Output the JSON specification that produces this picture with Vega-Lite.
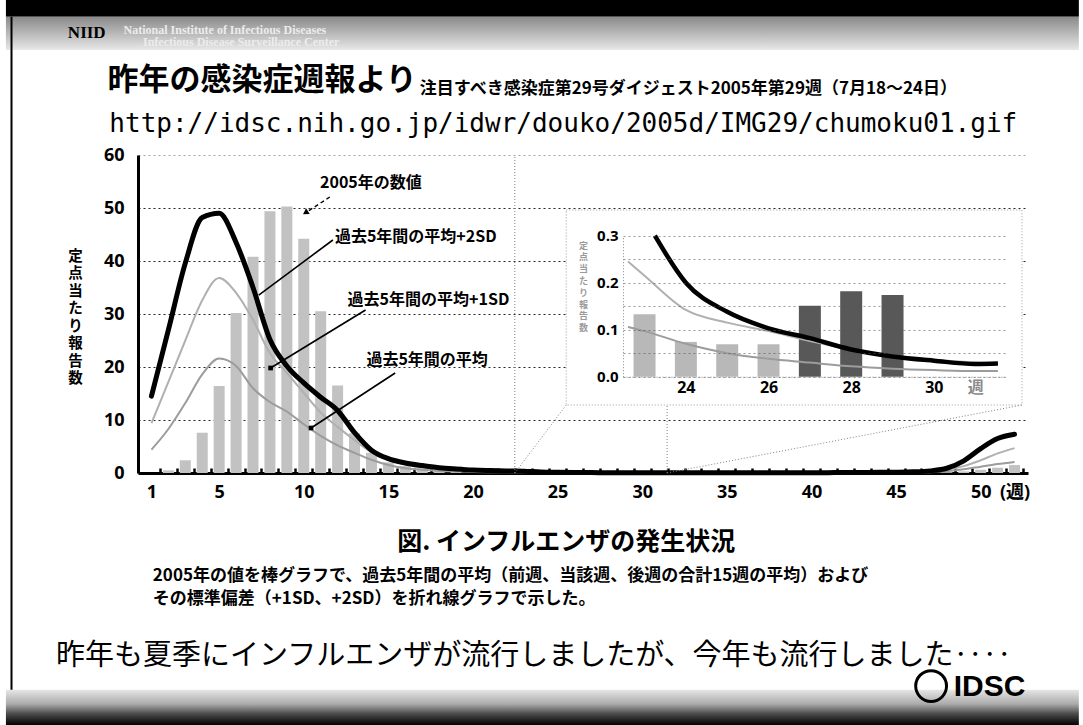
{
  "$schema": "https://vega.github.io/schema/vega-lite/v6.json",
  "width": 890,
  "height": 318,
  "autosize": {"type": "none"},
  "padding": {"left": 138, "top": 155, "right": 55, "bottom": 252},
  "background": "white",
  "config": {"view": {"stroke": null}, "font": "Noto Sans CJK JP"},
  "datasets": {
    "main": [
      {"w": 1, "bar": 0, "mean": 4.4, "sd1": 9.4, "sd2": 14.5},
      {"w": 2, "bar": 0.5, "mean": 8.3, "sd1": 17.2, "sd2": 27.0},
      {"w": 3, "bar": 2.4, "mean": 13.2, "sd1": 25.0, "sd2": 39.6},
      {"w": 4, "bar": 7.6, "mean": 18.6, "sd1": 32.6, "sd2": 48.2},
      {"w": 5, "bar": 16.4, "mean": 21.6, "sd1": 36.8, "sd2": 49.0},
      {"w": 6, "bar": 30.2, "mean": 20.2, "sd1": 34.0, "sd2": 43.5},
      {"w": 7, "bar": 40.8, "mean": 16.0, "sd1": 28.9, "sd2": 35.0},
      {"w": 8, "bar": 49.4, "mean": 13.4, "sd1": 22.6, "sd2": 25.2},
      {"w": 9, "bar": 50.3, "mean": 11.6, "sd1": 18.9, "sd2": 20.2},
      {"w": 10, "bar": 44.2, "mean": 9.2, "sd1": 15.1, "sd2": 17.0},
      {"w": 11, "bar": 30.5, "mean": 7.0, "sd1": 11.4, "sd2": 14.3},
      {"w": 12, "bar": 16.5, "mean": 5.2, "sd1": 8.7, "sd2": 11.8},
      {"w": 13, "bar": 7.5, "mean": 3.8, "sd1": 6.2, "sd2": 7.6},
      {"w": 14, "bar": 3.8, "mean": 2.5, "sd1": 3.9, "sd2": 4.3},
      {"w": 15, "bar": 2.0, "mean": 1.5, "sd1": 2.5, "sd2": 2.7},
      {"w": 16, "bar": 1.3, "mean": 0.9, "sd1": 1.6, "sd2": 1.9},
      {"w": 17, "bar": 0.9, "mean": 0.6, "sd1": 1.1, "sd2": 1.4},
      {"w": 18, "bar": 0.6, "mean": 0.4, "sd1": 0.8, "sd2": 1.0},
      {"w": 19, "bar": 0.4, "mean": 0.3, "sd1": 0.55, "sd2": 0.75},
      {"w": 20, "bar": 0.3, "mean": 0.2, "sd1": 0.4, "sd2": 0.55},
      {"w": 21, "bar": 0.2, "mean": 0.15, "sd1": 0.3, "sd2": 0.45},
      {"w": 22, "bar": 0.15, "mean": 0.12, "sd1": 0.25, "sd2": 0.38},
      {"w": 23, "bar": 0.13, "mean": 0.097, "sd1": 0.215, "sd2": 0.33},
      {"w": 24, "bar": 0.074, "mean": 0.07, "sd1": 0.142, "sd2": 0.2},
      {"w": 25, "bar": 0.069, "mean": 0.05, "sd1": 0.115, "sd2": 0.138},
      {"w": 26, "bar": 0.069, "mean": 0.038, "sd1": 0.097, "sd2": 0.103},
      {"w": 27, "bar": 0.151, "mean": 0.03, "sd1": 0.076, "sd2": 0.082},
      {"w": 28, "bar": 0.182, "mean": 0.022, "sd1": 0.058, "sd2": 0.058},
      {"w": 29, "bar": 0.174, "mean": 0.017, "sd1": 0.045, "sd2": 0.043},
      {"w": 30, "bar": 0, "mean": 0.014, "sd1": 0.036, "sd2": 0.034},
      {"w": 31, "bar": 0, "mean": 0.012, "sd1": 0.03, "sd2": 0.027},
      {"w": 32, "bar": 0.01, "mean": 0.01, "sd1": 0.03, "sd2": 0.03},
      {"w": 33, "bar": 0.01, "mean": 0.01, "sd1": 0.03, "sd2": 0.03},
      {"w": 34, "bar": 0.01, "mean": 0.01, "sd1": 0.03, "sd2": 0.035},
      {"w": 35, "bar": 0.02, "mean": 0.01, "sd1": 0.03, "sd2": 0.04},
      {"w": 36, "bar": 0.02, "mean": 0.01, "sd1": 0.03, "sd2": 0.04},
      {"w": 37, "bar": 0.02, "mean": 0.01, "sd1": 0.03, "sd2": 0.04},
      {"w": 38, "bar": 0.02, "mean": 0.015, "sd1": 0.035, "sd2": 0.05},
      {"w": 39, "bar": 0.02, "mean": 0.015, "sd1": 0.04, "sd2": 0.05},
      {"w": 40, "bar": 0.02, "mean": 0.02, "sd1": 0.04, "sd2": 0.06},
      {"w": 41, "bar": 0.02, "mean": 0.02, "sd1": 0.05, "sd2": 0.07},
      {"w": 42, "bar": 0.03, "mean": 0.025, "sd1": 0.06, "sd2": 0.08},
      {"w": 43, "bar": 0.03, "mean": 0.03, "sd1": 0.07, "sd2": 0.1},
      {"w": 44, "bar": 0.03, "mean": 0.04, "sd1": 0.09, "sd2": 0.12},
      {"w": 45, "bar": 0.04, "mean": 0.05, "sd1": 0.11, "sd2": 0.15},
      {"w": 46, "bar": 0.05, "mean": 0.08, "sd1": 0.16, "sd2": 0.22},
      {"w": 47, "bar": 0.08, "mean": 0.16, "sd1": 0.32, "sd2": 0.4},
      {"w": 48, "bar": 0.15, "mean": 0.35, "sd1": 0.65, "sd2": 0.9},
      {"w": 49, "bar": 0.3, "mean": 0.7, "sd1": 1.3, "sd2": 2.3},
      {"w": 50, "bar": 0.6, "mean": 1.2, "sd1": 2.4, "sd2": 4.6},
      {"w": 51, "bar": 1.0, "mean": 1.7, "sd1": 3.7, "sd2": 6.5},
      {"w": 52, "bar": 1.5, "mean": 2.1, "sd1": 4.7, "sd2": 7.3}
    ],
    "insetBars": [
      {"w": 23, "v": 0.133, "over": "no"},
      {"w": 24, "v": 0.074, "over": "no"},
      {"w": 25, "v": 0.069, "over": "no"},
      {"w": 26, "v": 0.069, "over": "no"},
      {"w": 27, "v": 0.151, "over": "yes"},
      {"w": 28, "v": 0.182, "over": "yes"},
      {"w": 29, "v": 0.174, "over": "yes"}
    ],
    "insetLines": [
      {"s": "sd2", "w": 23.25, "v": 0.3},
      {"s": "sd2", "w": 24, "v": 0.2},
      {"s": "sd2", "w": 25, "v": 0.138},
      {"s": "sd2", "w": 26, "v": 0.103},
      {"s": "sd2", "w": 27, "v": 0.082},
      {"s": "sd2", "w": 28, "v": 0.058},
      {"s": "sd2", "w": 29, "v": 0.043},
      {"s": "sd2", "w": 30, "v": 0.034},
      {"s": "sd2", "w": 31, "v": 0.027},
      {"s": "sd2", "w": 31.55, "v": 0.028},
      {"s": "sd1", "w": 22.6, "v": 0.245},
      {"s": "sd1", "w": 23, "v": 0.215},
      {"s": "sd1", "w": 24, "v": 0.142},
      {"s": "sd1", "w": 25, "v": 0.115},
      {"s": "sd1", "w": 26, "v": 0.097},
      {"s": "sd1", "w": 27, "v": 0.076},
      {"s": "sd1", "w": 28, "v": 0.058},
      {"s": "sd1", "w": 29, "v": 0.045},
      {"s": "sd1", "w": 30, "v": 0.036},
      {"s": "sd1", "w": 31, "v": 0.03},
      {"s": "sd1", "w": 31.55, "v": 0.028},
      {"s": "mean", "w": 22.6, "v": 0.106},
      {"s": "mean", "w": 23, "v": 0.097},
      {"s": "mean", "w": 24, "v": 0.07},
      {"s": "mean", "w": 25, "v": 0.05},
      {"s": "mean", "w": 26, "v": 0.038},
      {"s": "mean", "w": 27, "v": 0.03},
      {"s": "mean", "w": 28, "v": 0.022},
      {"s": "mean", "w": 29, "v": 0.017},
      {"s": "mean", "w": 30, "v": 0.014},
      {"s": "mean", "w": 31, "v": 0.012},
      {"s": "mean", "w": 31.55, "v": 0.012}
    ]
  },
  "layer": [
    {
      "resolve": {"axis": {"x": "independent"}},
      "layer": [
        {
          "data": {"values": [{"x1": -7.6, "x2": 55.8, "y1": 86.1, "y2": 89.3}]},
          "mark": {"type": "rect", "fill": "#000000"},
          "encoding": {
            "x": {"field": "x1", "type": "quantitative", "scale": {"domain": [0.5, 52.5], "nice": false, "zero": false}, "axis": null},
            "x2": {"field": "x2"},
            "y": {"field": "y1", "type": "quantitative", "scale": {"domain": [0, 60], "nice": false, "zero": false}},
            "y2": {"field": "y2"}
          }
        },
        {
          "data": {"values": [{"x1": -7.6, "x2": 55.8, "y1": 79.8, "y2": 86.1}]},
          "mark": {"type": "rect", "fill": {"gradient": "linear", "x1": 0, "y1": 0, "x2": 0, "y2": 1, "stops": [{"offset": 0, "color": "#8a8a8a"}, {"offset": 0.5, "color": "#b8b8b8"}, {"offset": 1, "color": "#e8e8e8"}]}},
          "encoding": {
            "x": {"field": "x1", "type": "quantitative", "scale": {"domain": [0.5, 52.5], "nice": false, "zero": false}, "axis": null},
            "x2": {"field": "x2"},
            "y": {"field": "y1", "type": "quantitative", "scale": {"domain": [0, 60], "nice": false, "zero": false}},
            "y2": {"field": "y2"}
          }
        },
        {
          "data": {"values": [{"x1": -7.6, "x2": 55.8, "y1": -47.6, "y2": -40.9}]},
          "mark": {"type": "rect", "fill": {"gradient": "linear", "x1": 0, "y1": 0, "x2": 0, "y2": 1, "stops": [{"offset": 0, "color": "#e6e6e6"}, {"offset": 0.4, "color": "#ababab"}, {"offset": 0.68, "color": "#4a4a4a"}, {"offset": 1, "color": "#000000"}]}},
          "encoding": {
            "x": {"field": "x1", "type": "quantitative", "scale": {"domain": [0.5, 52.5], "nice": false, "zero": false}, "axis": null},
            "x2": {"field": "x2"},
            "y": {"field": "y1", "type": "quantitative", "scale": {"domain": [0, 60], "nice": false, "zero": false}},
            "y2": {"field": "y2"}
          }
        },
        {
          "data": {"values": [{"x1": -7.27, "y1": 86.1, "y2": -40.9}]},
          "mark": {"type": "rule", "color": "#000000", "strokeWidth": 2},
          "encoding": {
            "x": {"field": "x1", "type": "quantitative", "scale": {"domain": [0.5, 52.5], "nice": false, "zero": false}, "axis": null},
            "y": {"field": "y1", "type": "quantitative", "scale": {"domain": [0, 60], "nice": false, "zero": false}},
            "y2": {"field": "y2"}
          }
        },
        {
          "data": {"values": [{"x1": 25.51, "x2": 52.44, "y1": 12.83, "y2": 49.62}]},
          "mark": {"type": "rect", "fill": "#ffffff", "stroke": "#9a9a9a", "strokeWidth": 1, "strokeDash": [1, 2]},
          "encoding": {
            "x": {"field": "x1", "type": "quantitative", "scale": {"domain": [0.5, 52.5], "nice": false, "zero": false}, "axis": null},
            "x2": {"field": "x2"},
            "y": {"field": "y1", "type": "quantitative", "scale": {"domain": [0, 60], "nice": false, "zero": false}},
            "y2": {"field": "y2"}
          }
        },
        {
          "data": {"name": "main"},
          "mark": {"type": "bar", "size": 11, "color": "#c2c2c2"},
          "encoding": {
            "x": {
              "field": "w", "type": "quantitative",
              "scale": {"domain": [0.5, 52.5], "nice": false, "zero": false},
              "axis": {
                "orient": "bottom",
                "values": [1, 5, 10, 15, 20, 25, 30, 35, 40, 45, 50, 52],
                "labelExpr": "datum.value == 52 ? '(週)' : datum.label",
                "ticks": false,
                "domainWidth": 3, "domainColor": "#000000",
                "labelFont": "Open Sans, Noto Sans CJK JP", "labelFontSize": 18, "labelFontWeight": "bold", "labelColor": "#000000",
                "labelPadding": 10, "labelOverlap": false, "labelFlush": false, "labelBound": false,
                "grid": false, "title": null
              }
            },
            "y": {
              "field": "bar", "type": "quantitative",
              "scale": {"domain": [0, 60], "nice": false, "zero": false},
              "axis": {
                "values": [0, 10, 20, 30, 40, 50, 60],
                "ticks": false, "domainWidth": 3, "domainColor": "#000000",
                "labelFont": "Open Sans", "labelFontSize": 18, "labelFontWeight": "bold", "labelColor": "#000000", "labelPadding": 14,
                "grid": true, "gridColor": "#000000", "gridDash": [2, 3], "gridWidth": 1,
                "gridOpacity": {"condition": {"test": "datum.value == 60", "value": 0.35}, "value": 0.85},
                "title": ["定", "点", "当", "た", "り", "報", "告", "数"],
                "titleAngle": 0, "titleX": -63, "titleY": 94, "titleAlign": "center", "titleBaseline": "top",
                "titleFont": "Noto Sans CJK JP", "titleFontSize": 14.5, "titleFontWeight": "bold", "titleLineHeight": 17.5, "titleColor": "#000000"
              }
            }
          }
        },
        {
          "data": {"name": "main"},
          "mark": {"type": "line", "color": "#9c9c9c", "strokeWidth": 2, "interpolate": "monotone"},
          "encoding": {
            "x": {
              "field": "w", "type": "quantitative", "scale": {"domain": [0.5, 52.5], "nice": false, "zero": false},
              "axis": {
                "orient": "bottom",
                "values": [1.5, 2.5, 3.5, 4.5, 5.5, 6.5, 7.5, 8.5, 9.5, 10.5, 11.5, 12.5, 13.5, 14.5, 15.5, 16.5, 17.5, 18.5, 19.5, 20.5, 21.5, 22.5, 23.5, 24.5, 25.5, 26.5, 27.5, 28.5, 29.5, 30.5, 31.5, 32.5, 33.5, 34.5, 35.5, 36.5, 37.5, 38.5, 39.5, 40.5, 41.5, 42.5, 43.5, 44.5, 45.5, 46.5, 47.5, 48.5, 49.5, 50.5, 51.5, 52.5],
                "labels": false, "domain": false, "grid": false, "title": null,
                "tickSize": -5, "tickWidth": 2.5, "tickColor": "#000000"
              }
            },
            "y": {"field": "mean", "type": "quantitative", "scale": {"domain": [0, 60], "nice": false, "zero": false}}
          }
        },
        {
          "data": {"name": "main"},
          "mark": {"type": "line", "color": "#b0b0b0", "strokeWidth": 2, "interpolate": "monotone"},
          "encoding": {
            "x": {"field": "w", "type": "quantitative", "scale": {"domain": [0.5, 52.5], "nice": false, "zero": false}, "axis": null},
            "y": {"field": "sd1", "type": "quantitative", "scale": {"domain": [0, 60], "nice": false, "zero": false}}
          }
        },
        {
          "data": {"name": "main"},
          "mark": {"type": "line", "color": "#000000", "strokeWidth": 5, "interpolate": "monotone", "strokeCap": "round"},
          "encoding": {
            "x": {"field": "w", "type": "quantitative", "scale": {"domain": [0.5, 52.5], "nice": false, "zero": false}, "axis": null},
            "y": {"field": "sd2", "type": "quantitative", "scale": {"domain": [0, 60], "nice": false, "zero": false}}
          }
        },
        {
          "data": {"values": [
            {"x1": 22.47, "y1": 0, "x2": 22.47, "y2": 60},
            {"x1": 31.47, "y1": 0, "x2": 31.47, "y2": 12.83},
            {"x1": 22.47, "y1": 0, "x2": 25.51, "y2": 12.83},
            {"x1": 31.47, "y1": 0, "x2": 52.44, "y2": 12.83}
          ]},
          "mark": {"type": "rule", "color": "#808080", "strokeWidth": 1, "strokeDash": [1, 2]},
          "encoding": {
            "x": {"field": "x1", "type": "quantitative", "scale": {"domain": [0.5, 52.5], "nice": false, "zero": false}, "axis": null},
            "x2": {"field": "x2"},
            "y": {"field": "y1", "type": "quantitative", "scale": {"domain": [0, 60], "nice": false, "zero": false}},
            "y2": {"field": "y2"}
          }
        },
        {
          "data": {"values": [
            {"x1": 11.72, "y1": 43.96, "x2": 7.34, "y2": 33.58},
            {"x1": 13.65, "y1": 30.75, "x2": 8.04, "y2": 19.81},
            {"x1": 15.4, "y1": 18.87, "x2": 10.43, "y2": 8.49}
          ]},
          "mark": {"type": "rule", "color": "#000000", "strokeWidth": 1.6},
          "encoding": {
            "x": {"field": "x1", "type": "quantitative", "scale": {"domain": [0.5, 52.5], "nice": false, "zero": false}, "axis": null},
            "x2": {"field": "x2"},
            "y": {"field": "y1", "type": "quantitative", "scale": {"domain": [0, 60], "nice": false, "zero": false}},
            "y2": {"field": "y2"}
          }
        },
        {
          "data": {"values": [{"x1": 11.54, "y1": 52.08, "x2": 10.3, "y2": 49.5}]},
          "mark": {"type": "rule", "color": "#000000", "strokeWidth": 1.4, "strokeDash": [4, 3]},
          "encoding": {
            "x": {"field": "x1", "type": "quantitative", "scale": {"domain": [0.5, 52.5], "nice": false, "zero": false}, "axis": null},
            "x2": {"field": "x2"},
            "y": {"field": "y1", "type": "quantitative", "scale": {"domain": [0, 60], "nice": false, "zero": false}},
            "y2": {"field": "y2"}
          }
        },
        {
          "data": {"values": [{"x": 10.1, "y": 49.1}]},
          "mark": {"type": "point", "shape": "triangle-up", "filled": true, "color": "#000000", "size": 45, "angle": 237, "opacity": 1},
          "encoding": {
            "x": {"field": "x", "type": "quantitative", "scale": {"domain": [0.5, 52.5], "nice": false, "zero": false}, "axis": null},
            "y": {"field": "y", "type": "quantitative", "scale": {"domain": [0, 60], "nice": false, "zero": false}}
          }
        },
        {
          "data": {"values": [{"x": 8.04, "y": 19.81}, {"x": 10.43, "y": 8.49}]},
          "mark": {"type": "point", "shape": "square", "filled": true, "color": "#000000", "size": 22, "opacity": 1},
          "encoding": {
            "x": {"field": "x", "type": "quantitative", "scale": {"domain": [0.5, 52.5], "nice": false, "zero": false}, "axis": null},
            "y": {"field": "y", "type": "quantitative", "scale": {"domain": [0, 60], "nice": false, "zero": false}}
          }
        },
        {
          "data": {"values": [
            {"x": 10.96, "y": 54.72, "t": "2005年の数値"},
            {"x": 11.84, "y": 44.53, "t": "過去5年間の平均+2SD"},
            {"x": 12.59, "y": 32.64, "t": "過去5年間の平均+1SD"},
            {"x": 13.7, "y": 21.32, "t": "過去5年間の平均"}
          ]},
          "mark": {"type": "text", "align": "left", "baseline": "middle", "font": "Noto Sans CJK JP", "fontSize": 16, "fontWeight": "bold", "color": "#000000"},
          "encoding": {
            "x": {"field": "x", "type": "quantitative", "scale": {"domain": [0.5, 52.5], "nice": false, "zero": false}, "axis": null},
            "y": {"field": "y", "type": "quantitative", "scale": {"domain": [0, 60], "nice": false, "zero": false}},
            "text": {"field": "t"}
          }
        },
        {
          "data": {"values": [{"x": -3.94, "y": 83.0, "t": "NIID"}]},
          "mark": {"type": "text", "align": "left", "baseline": "middle", "font": "Liberation Serif", "fontSize": 17, "fontWeight": "bold", "color": "#000000"},
          "encoding": {
            "x": {"field": "x", "type": "quantitative", "scale": {"domain": [0.5, 52.5], "nice": false, "zero": false}, "axis": null},
            "y": {"field": "y", "type": "quantitative", "scale": {"domain": [0, 60], "nice": false, "zero": false}},
            "text": {"field": "t"}
          }
        },
        {
          "data": {"values": [
            {"x": -0.65, "y": 83.58, "t": "National Institute of Infectious Diseases"},
            {"x": 0.5, "y": 81.32, "t": "Infectious Disease Surveillance Center"}
          ]},
          "mark": {"type": "text", "align": "left", "baseline": "middle", "font": "Liberation Serif", "fontSize": 12, "fontWeight": "bold", "color": "#ececec"},
          "encoding": {
            "x": {"field": "x", "type": "quantitative", "scale": {"domain": [0.5, 52.5], "nice": false, "zero": false}, "axis": null},
            "y": {"field": "y", "type": "quantitative", "scale": {"domain": [0, 60], "nice": false, "zero": false}},
            "text": {"field": "t"}
          }
        },
        {
          "data": {"values": [{"x": -1.6, "y": 73.96, "t": "昨年の感染症週報より"}]},
          "mark": {"type": "text", "align": "left", "baseline": "middle", "font": "Noto Sans CJK JP", "fontSize": 31, "fontWeight": "bold", "color": "#000000"},
          "encoding": {
            "x": {"field": "x", "type": "quantitative", "scale": {"domain": [0.5, 52.5], "nice": false, "zero": false}, "axis": null},
            "y": {"field": "y", "type": "quantitative", "scale": {"domain": [0, 60], "nice": false, "zero": false}},
            "text": {"field": "t"}
          }
        },
        {
          "data": {"values": [{"x": 16.86, "y": 72.45, "t": "注目すべき感染症第29号ダイジェスト2005年第29週（7月18〜24日）"}]},
          "mark": {"type": "text", "align": "left", "baseline": "middle", "font": "Noto Sans CJK JP", "fontSize": 17, "fontWeight": "bold", "color": "#000000"},
          "encoding": {
            "x": {"field": "x", "type": "quantitative", "scale": {"domain": [0.5, 52.5], "nice": false, "zero": false}, "axis": null},
            "y": {"field": "y", "type": "quantitative", "scale": {"domain": [0, 60], "nice": false, "zero": false}},
            "text": {"field": "t"}
          }
        },
        {
          "data": {"values": [{"x": -1.49, "y": 65.85, "t": "http://idsc.nih.go.jp/idwr/douko/2005d/IMG29/chumoku01.gif"}]},
          "mark": {"type": "text", "align": "left", "baseline": "middle", "font": "DejaVu Sans Mono", "fontSize": 26, "color": "#000000"},
          "encoding": {
            "x": {"field": "x", "type": "quantitative", "scale": {"domain": [0.5, 52.5], "nice": false, "zero": false}, "axis": null},
            "y": {"field": "y", "type": "quantitative", "scale": {"domain": [0, 60], "nice": false, "zero": false}},
            "text": {"field": "t"}
          }
        },
        {
          "data": {"values": [{"x": 25.51, "y": -13.02, "t": "図.  インフルエンザの発生状況"}]},
          "mark": {"type": "text", "align": "center", "baseline": "middle", "font": "Noto Sans CJK JP", "fontSize": 25, "fontWeight": "bold", "color": "#000000"},
          "encoding": {
            "x": {"field": "x", "type": "quantitative", "scale": {"domain": [0.5, 52.5], "nice": false, "zero": false}, "axis": null},
            "y": {"field": "y", "type": "quantitative", "scale": {"domain": [0, 60], "nice": false, "zero": false}},
            "text": {"field": "t"}
          }
        },
        {
          "data": {"values": [
            {"x": 1.08, "y": -19.4, "t": "2005年の値を棒グラフで、過去5年間の平均（前週、当該週、後週の合計15週の平均）および"},
            {"x": 1.08, "y": -23.8, "t": "その標準偏差（+1SD、+2SD）を折れ線グラフで示した。"}
          ]},
          "mark": {"type": "text", "align": "left", "baseline": "middle", "font": "Noto Sans CJK JP", "fontSize": 17, "fontWeight": "bold", "color": "#000000"},
          "encoding": {
            "x": {"field": "x", "type": "quantitative", "scale": {"domain": [0.5, 52.5], "nice": false, "zero": false}, "axis": null},
            "y": {"field": "y", "type": "quantitative", "scale": {"domain": [0, 60], "nice": false, "zero": false}},
            "text": {"field": "t"}
          }
        },
        {
          "data": {"values": [{"x": -4.64, "y": -34.53, "t": "昨年も夏季にインフルエンザが流行しましたが、今年も流行しました‥‥"}]},
          "mark": {"type": "text", "align": "left", "baseline": "middle", "font": "Noto Sans CJK JP", "fontSize": 29, "color": "#000000"},
          "encoding": {
            "x": {"field": "x", "type": "quantitative", "scale": {"domain": [0.5, 52.5], "nice": false, "zero": false}, "axis": null},
            "y": {"field": "y", "type": "quantitative", "scale": {"domain": [0, 60], "nice": false, "zero": false}},
            "text": {"field": "t"}
          }
        },
        {
          "data": {"values": [{"x": 47.07, "y": -40.2}]},
          "mark": {"type": "point", "shape": "circle", "filled": false, "color": "#000000", "strokeWidth": 3, "size": 950, "opacity": 1},
          "encoding": {
            "x": {"field": "x", "type": "quantitative", "scale": {"domain": [0.5, 52.5], "nice": false, "zero": false}, "axis": null},
            "y": {"field": "y", "type": "quantitative", "scale": {"domain": [0, 60], "nice": false, "zero": false}}
          }
        },
        {
          "data": {"values": [{"x": 48.41, "y": -40.4, "t": "IDSC"}]},
          "mark": {"type": "text", "align": "left", "baseline": "middle", "font": "Liberation Sans", "fontSize": 30, "fontWeight": "bold", "color": "#000000"},
          "encoding": {
            "x": {"field": "x", "type": "quantitative", "scale": {"domain": [0.5, 52.5], "nice": false, "zero": false}, "axis": null},
            "y": {"field": "y", "type": "quantitative", "scale": {"domain": [0, 60], "nice": false, "zero": false}},
            "text": {"field": "t"}
          }
        }
      ]
    },
    {
      "layer": [
        {
          "data": {"name": "insetBars"},
          "mark": {"type": "bar", "size": 22},
          "encoding": {
            "x": {
              "field": "w", "type": "quantitative",
              "scale": {"domain": [22.6, 31.6], "range": [485, 867], "nice": false, "zero": false},
              "axis": {
                "orient": "bottom", "offset": -96.3, "zindex": 1,
                "values": [24, 26, 28, 30, 31],
                "format": "d",
                "labelExpr": "datum.value == 31 ? '週' : format(datum.value, 'd')",
                "labelColor": {"condition": {"test": "datum.value == 31", "value": "#8a8a8a"}, "value": "#000000"},
                "ticks": false, "domainColor": "#8a8a8a", "domainDash": [1, 2], "domainWidth": 1,
                "labelFont": "Open Sans, Noto Sans CJK JP", "labelFontSize": 16, "labelFontWeight": "bold", "labelPadding": 3,
                "grid": false, "title": null, "labelOverlap": false
              }
            },
            "y": {
              "field": "v", "type": "quantitative",
              "scale": {"domain": [0, 0.3], "range": [221.7, 80.7], "nice": false, "zero": false},
              "axis": {
                "orient": "left", "offset": -485, "zindex": 1,
                "values": [0, 0.05, 0.1, 0.15, 0.2, 0.25, 0.3],
                "labelExpr": "round(datum.value * 20) % 2 == 0 ? format(datum.value, '.1f') : ''",
                "ticks": false, "domainColor": "#8a8a8a", "domainDash": [1, 2], "domainWidth": 1,
                "labelFont": "Open Sans", "labelFontSize": 15, "labelFontWeight": "bold", "labelColor": "#000000", "labelPadding": 5,
                "labelOverlap": false,
                "grid": true, "gridColor": "#555555", "gridDash": [2, 3], "gridWidth": 1, "gridOpacity": 0.6,
                "title": ["定", "点", "当", "た", "り", "報", "告", "数"],
                "titleAngle": 0, "titleX": -40, "titleY": 86, "titleAlign": "center", "titleBaseline": "top",
                "titleFont": "Noto Sans CJK JP", "titleFontSize": 9, "titleFontWeight": "bold", "titleLineHeight": 11.8, "titleColor": "#9a9a9a"
              }
            },
            "color": {"field": "over", "type": "nominal", "scale": {"domain": ["no", "yes"], "range": ["#b8b8b8", "#585858"]}, "legend": null}
          }
        },
        {
          "data": {"name": "insetLines"},
          "transform": [{"filter": "datum.s == 'mean'"}],
          "mark": {"type": "line", "color": "#9c9c9c", "strokeWidth": 2, "interpolate": "monotone"},
          "encoding": {
            "x": {"field": "w", "type": "quantitative", "scale": {"domain": [22.6, 31.6], "range": [485, 867], "nice": false, "zero": false}},
            "y": {"field": "v", "type": "quantitative", "scale": {"domain": [0, 0.3], "range": [221.7, 80.7], "nice": false, "zero": false}}
          }
        },
        {
          "data": {"name": "insetLines"},
          "transform": [{"filter": "datum.s == 'sd1'"}],
          "mark": {"type": "line", "color": "#b0b0b0", "strokeWidth": 2, "interpolate": "monotone"},
          "encoding": {
            "x": {"field": "w", "type": "quantitative", "scale": {"domain": [22.6, 31.6], "range": [485, 867], "nice": false, "zero": false}},
            "y": {"field": "v", "type": "quantitative", "scale": {"domain": [0, 0.3], "range": [221.7, 80.7], "nice": false, "zero": false}}
          }
        },
        {
          "data": {"name": "insetLines"},
          "transform": [{"filter": "datum.s == 'sd2'"}],
          "mark": {"type": "line", "color": "#000000", "strokeWidth": 4.5, "interpolate": "monotone"},
          "encoding": {
            "x": {"field": "w", "type": "quantitative", "scale": {"domain": [22.6, 31.6], "range": [485, 867], "nice": false, "zero": false}},
            "y": {"field": "v", "type": "quantitative", "scale": {"domain": [0, 0.3], "range": [221.7, 80.7], "nice": false, "zero": false}}
          }
        }
      ]
    }
  ],
  "resolve": {"scale": {"x": "independent", "y": "independent", "color": "independent"}, "axis": {"x": "independent", "y": "independent"}}
}
